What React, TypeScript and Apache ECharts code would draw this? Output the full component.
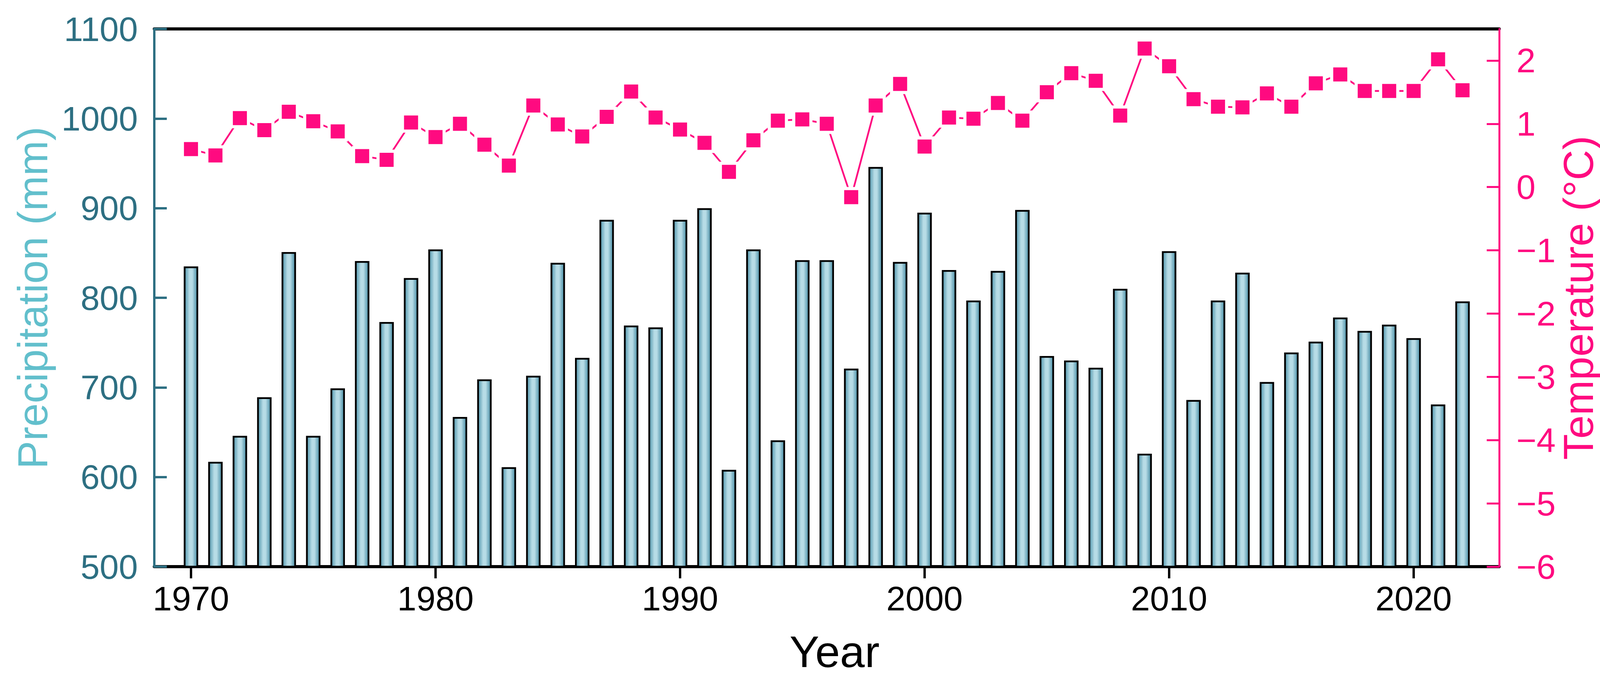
import React, { useEffect, useRef } from "react";
import * as echarts from "echarts";

const years: number[] = [
  1970, 1971, 1972, 1973, 1974, 1975, 1976, 1977, 1978, 1979,
  1980, 1981, 1982, 1983, 1984, 1985, 1986, 1987, 1988, 1989,
  1990, 1991, 1992, 1993, 1994, 1995, 1996, 1997, 1998, 1999,
  2000, 2001, 2002, 2003, 2004, 2005, 2006, 2007, 2008, 2009,
  2010, 2011, 2012, 2013, 2014, 2015, 2016, 2017, 2018, 2019,
  2020, 2021, 2022,
];

const precipitation: number[] = [
  835, 617, 646, 689, 851, 646, 699, 841, 773, 822,
  854, 667, 709, 611, 713, 839, 733, 887, 769, 767,
  887, 900, 608, 854, 641, 842, 842, 721, 946, 840,
  895, 831, 797, 830, 898, 735, 730, 722, 810, 626,
  852, 686, 797, 828, 706, 739, 751, 778, 763, 770,
  755, 681, 796,
];

const temperature: number[] = [
  0.6, 0.5, 1.09, 0.9, 1.19, 1.04, 0.88, 0.49, 0.43, 1.02,
  0.79, 1.0, 0.67, 0.34, 1.29, 0.99, 0.8, 1.11, 1.51, 1.1,
  0.91, 0.7, 0.24, 0.74, 1.05, 1.07, 1.0, -0.16, 1.29, 1.63,
  0.64, 1.1, 1.08, 1.33, 1.05, 1.5, 1.8, 1.68, 1.13, 2.19,
  1.91, 1.39, 1.27, 1.26, 1.48, 1.27, 1.64, 1.78, 1.52, 1.52,
  1.52, 2.02, 1.53,
];

const yearTicks: number[] = [1970, 1980, 1990, 2000, 2010, 2020];
const tempTicks: number[] = [-6, -5, -4, -3, -2, -1, 0, 1, 2];

const FONT = "'Liberation Sans', Arial, Helvetica, sans-serif";
const PINK = "#ff0a80";
const TEAL_DARK = "#2d6f82";
const TEAL_LIGHT = "#62bfcc";

export default function App() {
  const ref = useRef<HTMLDivElement>(null);

  useEffect(() => {
    if (!ref.current) return;
    const chart = echarts.init(ref.current, null, { renderer: "svg" });

    const barData = years.map((y, i) => [y, precipitation[i]]);
    const lineData = years.map((y, i) => [y, temperature[i]]);

    const option: any = {
      animation: false,
      backgroundColor: "#ffffff",
      textStyle: { fontFamily: FONT },
      grid: { left: 395, right: 308, top: 74, bottom: 308, containLabel: false, outerBoundsMode: "none" },
      xAxis: [
        {
          type: "value",
          min: 1968.5,
          max: 2023.5,
          position: "bottom",
          z: 2,
          name: "Year",
          nameLocation: "middle",
          nameGap: 160,
          nameMoveOverlap: false,
          nameTextStyle: { fontSize: 114, color: "#000", fontFamily: FONT, padding: [0, 0, 0, 40] },
          axisLine: { show: true, onZero: false, lineStyle: { color: "#000", width: 8 } },
          axisTick: {
            show: true,
            inside: false,
            length: 30,
            customValues: yearTicks,
            lineStyle: { color: "#000", width: 6 },
          },
          axisLabel: {
            show: true,
            customValues: yearTicks,
            fontSize: 88,
            color: "#000",
            fontFamily: FONT,
            margin: 37,
            formatter: (v: number) => String(v),
          },
          splitLine: { show: false },
        },
        {
          type: "value",
          min: 1968.5,
          max: 2023.5,
          position: "top",
          z: 1,
          axisLine: { show: true, onZero: false, lineStyle: { color: "#000", width: 8 } },
          axisTick: { show: false },
          axisLabel: { show: false },
          splitLine: { show: false },
        },
      ],
      yAxis: [
        {
          type: "value",
          min: 500,
          max: 1100,
          interval: 100,
          position: "left",
          z: 3,
          name: "Precipitation (mm)",
          nameLocation: "middle",
          nameRotate: 90,
          nameGap: 258,
          nameMoveOverlap: false,
          nameTextStyle: { fontSize: 108, color: TEAL_LIGHT, fontFamily: FONT },
          axisLine: { show: true, onZero: false, lineStyle: { color: TEAL_DARK, width: 6 } },
          axisTick: { show: true, inside: true, length: 32, lineStyle: { color: TEAL_DARK, width: 6 } },
          axisLabel: {
            fontSize: 88,
            color: TEAL_DARK,
            fontFamily: FONT,
            margin: 42,
            formatter: (v: number) => String(v),
          },
          splitLine: { show: false },
        },
        {
          type: "value",
          min: -6,
          max: 2.5,
          position: "right",
          z: 3,
          name: "Temperature (°C)",
          nameLocation: "middle",
          nameRotate: 90,
          nameGap: 148,
          nameMoveOverlap: false,
          nameTextStyle: { fontSize: 108, color: PINK, fontFamily: FONT },
          axisLine: { show: true, onZero: false, lineStyle: { color: PINK, width: 5 } },
          axisTick: {
            show: true,
            inside: true,
            length: 32,
            customValues: tempTicks,
            lineStyle: { color: PINK, width: 5 },
          },
          axisLabel: {
            customValues: tempTicks,
            fontSize: 88,
            color: PINK,
            fontFamily: FONT,
            margin: 44,
            formatter: (v: number) => String(v).replace("-", "\u2212"),
          },
          splitLine: { show: false },
        },
      ],
      series: [
        {
          type: "bar",
          name: "Precipitation",
          xAxisIndex: 0,
          yAxisIndex: 0,
          data: barData,
          barWidth: 37,
          clip: true,
          itemStyle: {
            color: new echarts.graphic.LinearGradient(0, 0, 1, 0, [
              { offset: 0, color: "#4f94ab" },
              { offset: 0.4, color: "#b7dce6" },
              { offset: 0.6, color: "#b7dce6" },
              { offset: 1, color: "#468ca4" },
            ]),
            borderColor: "#000",
            borderWidth: 4.5,
          },
        },
        {
          type: "line",
          name: "Temperature",
          xAxisIndex: 0,
          yAxisIndex: 1,
          data: lineData,
          symbol: "rect",
          symbolSize: 44,
          z: 5,
          lineStyle: { color: PINK, width: 4.5 },
          itemStyle: { color: PINK, borderColor: "#ffffff", borderWidth: 8 },
        },
      ],
    };

    chart.setOption(option);
    return () => chart.dispose();
  }, []);

  return (
    <div
      ref={ref}
      style={{ position: "fixed", left: 0, top: 0, width: 4146, height: 1758, background: "#fff" }}
    />
  );
}
